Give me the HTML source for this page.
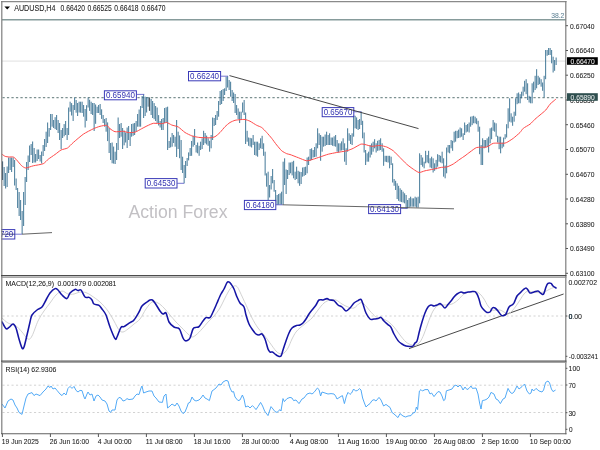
<!DOCTYPE html>
<html lang="en"><head><meta charset="utf-8"><title>AUDUSD H4 chart</title>
<style>
html,body{margin:0;padding:0;background:#fff;}
body{width:600px;height:450px;overflow:hidden;}
svg{display:block;}
text{font-family:'Liberation Sans', sans-serif;font-size:7.9px;fill:#202020;stroke:#202020;stroke-width:0.06px;}
.hd{font-size:8.3px;}
.lbl{fill:#3030b0;font-size:8.6px;stroke:none;}
.wm{font-size:17.6px;fill:#c2c0c4;stroke:none;}
</style></head><body>
<svg width="600" height="450" viewBox="0 0 600 450">
<rect x="0" y="0" width="600" height="450" fill="#ffffff"/>

<line x1="2" y1="19.8" x2="565.8" y2="19.85" stroke="#869b9b" stroke-width="1.5"/>
<line x1="2" y1="61.1" x2="565.8" y2="61.1" stroke="#dcdcdc" stroke-width="0.9"/>
<line x1="2.5" y1="97.6" x2="565.8" y2="97.6" stroke="#7d9191" stroke-width="1.35" stroke-dasharray="2.3 2.2" stroke-dashoffset="0.1"/>
<line x1="2.5" y1="316" x2="565.8" y2="316" stroke="#d2d2d2" stroke-width="1" stroke-dasharray="2.1 2.4"/>
<line x1="2.5" y1="385.2" x2="565.8" y2="385.2" stroke="#d2d2d2" stroke-width="1" stroke-dasharray="2.1 2.4"/>
<line x1="2.5" y1="412.5" x2="565.8" y2="412.5" stroke="#d2d2d2" stroke-width="1" stroke-dasharray="2.1 2.4"/>
<text class="wm" x="128.5" y="218.3" textLength="99" lengthAdjust="spacingAndGlyphs">Action Forex</text>
<g stroke="#2f6a8c" stroke-width="0.9">
<line x1="2.625" y1="161.5" x2="2.625" y2="180.0"/>
<line x1="4.125" y1="167.0" x2="4.125" y2="186.0"/>
<line x1="5.625" y1="173.0" x2="5.625" y2="188.5"/>
<line x1="7.125" y1="166.5" x2="7.125" y2="187.0"/>
<line x1="8.625" y1="157.5" x2="8.625" y2="173.0"/>
<line x1="10.125" y1="157.5" x2="10.125" y2="170.0"/>
<line x1="11.625" y1="157.5" x2="11.625" y2="172.0"/>
<line x1="13.125" y1="157.5" x2="13.125" y2="167.0"/>
<line x1="14.625" y1="160.0" x2="14.625" y2="185.5"/>
<line x1="16.125" y1="178.5" x2="16.125" y2="190.0"/>
<line x1="17.625" y1="188.0" x2="17.625" y2="208.0"/>
<line x1="19.125" y1="192.0" x2="19.125" y2="216.0"/>
<line x1="20.625" y1="200.0" x2="20.625" y2="220.0"/>
<line x1="22.125" y1="211.0" x2="22.125" y2="234.0"/>
<line x1="23.625" y1="192.0" x2="23.625" y2="226.0"/>
<line x1="25.125" y1="177.0" x2="25.125" y2="205.0"/>
<line x1="26.625" y1="162.0" x2="26.625" y2="182.0"/>
<line x1="28.125" y1="155.5" x2="28.125" y2="170.0"/>
<line x1="29.625" y1="145.5" x2="29.625" y2="162.0"/>
<line x1="31.125" y1="144.0" x2="31.125" y2="155.0"/>
<line x1="32.625" y1="141.5" x2="32.625" y2="163.0"/>
<line x1="34.125" y1="148.0" x2="34.125" y2="162.5"/>
<line x1="35.625" y1="154.0" x2="35.625" y2="162.5"/>
<line x1="37.125" y1="149.5" x2="37.125" y2="161.0"/>
<line x1="38.625" y1="149.5" x2="38.625" y2="159.0"/>
<line x1="40.125" y1="155.0" x2="40.125" y2="161.5"/>
<line x1="41.625" y1="151.5" x2="41.625" y2="163.5"/>
<line x1="43.125" y1="145.0" x2="43.125" y2="156.0"/>
<line x1="44.625" y1="139.0" x2="44.625" y2="151.0"/>
<line x1="46.125" y1="131.7" x2="46.125" y2="147.0"/>
<line x1="47.625" y1="122.5" x2="47.625" y2="143.0"/>
<line x1="49.125" y1="128.0" x2="49.125" y2="136.7"/>
<line x1="50.625" y1="114.0" x2="50.625" y2="130.0"/>
<line x1="52.125" y1="114.0" x2="52.125" y2="126.7"/>
<line x1="53.625" y1="120.0" x2="53.625" y2="128.0"/>
<line x1="55.125" y1="117.2" x2="55.125" y2="129.1"/>
<line x1="56.625" y1="115.0" x2="56.625" y2="130.0"/>
<line x1="58.125" y1="120.0" x2="58.125" y2="133.0"/>
<line x1="59.625" y1="123.0" x2="59.625" y2="140.0"/>
<line x1="61.125" y1="130.0" x2="61.125" y2="149.0"/>
<line x1="62.625" y1="128.0" x2="62.625" y2="138.0"/>
<line x1="64.125" y1="124.1" x2="64.125" y2="136.3"/>
<line x1="65.625" y1="121.0" x2="65.625" y2="135.0"/>
<line x1="67.125" y1="128.0" x2="67.125" y2="140.0"/>
<line x1="68.625" y1="107.5" x2="68.625" y2="135.0"/>
<line x1="70.125" y1="101.7" x2="70.125" y2="111.7"/>
<line x1="71.625" y1="103.1" x2="71.625" y2="115.5"/>
<line x1="73.125" y1="105.0" x2="73.125" y2="121.0"/>
<line x1="74.625" y1="97.5" x2="74.625" y2="110.0"/>
<line x1="76.125" y1="100.0" x2="76.125" y2="112.7"/>
<line x1="77.625" y1="103.0" x2="77.625" y2="116.0"/>
<line x1="79.125" y1="101.7" x2="79.125" y2="112.5"/>
<line x1="80.625" y1="101.7" x2="80.625" y2="112.7"/>
<line x1="82.125" y1="101.7" x2="82.125" y2="113.0"/>
<line x1="83.625" y1="105.0" x2="83.625" y2="116.7"/>
<line x1="85.125" y1="109.0" x2="85.125" y2="127.5"/>
<line x1="86.625" y1="105.2" x2="86.625" y2="120.9"/>
<line x1="88.125" y1="97.5" x2="88.125" y2="107.5"/>
<line x1="89.625" y1="99.7" x2="89.625" y2="110.9"/>
<line x1="91.125" y1="101.7" x2="91.125" y2="114.0"/>
<line x1="92.625" y1="103.0" x2="92.625" y2="115.0"/>
<line x1="94.125" y1="103.0" x2="94.125" y2="131.0"/>
<line x1="95.625" y1="104.5" x2="95.625" y2="123.8"/>
<line x1="97.125" y1="106.7" x2="97.125" y2="113.0"/>
<line x1="98.625" y1="105.0" x2="98.625" y2="113.0"/>
<line x1="100.125" y1="104.0" x2="100.125" y2="115.0"/>
<line x1="101.625" y1="109.3" x2="101.625" y2="118.9"/>
<line x1="103.125" y1="115.0" x2="103.125" y2="123.0"/>
<line x1="104.625" y1="119.0" x2="104.625" y2="126.7"/>
<line x1="106.125" y1="118.0" x2="106.125" y2="131.7"/>
<line x1="107.625" y1="122.4" x2="107.625" y2="141.1"/>
<line x1="109.125" y1="128.0" x2="109.125" y2="153.0"/>
<line x1="110.625" y1="143.0" x2="110.625" y2="160.0"/>
<line x1="112.125" y1="142.5" x2="112.125" y2="163.3"/>
<line x1="113.625" y1="146.6" x2="113.625" y2="163.6"/>
<line x1="115.125" y1="151.7" x2="115.125" y2="164.0"/>
<line x1="116.625" y1="143.0" x2="116.625" y2="160.0"/>
<line x1="118.125" y1="117.5" x2="118.125" y2="150.0"/>
<line x1="119.625" y1="124.0" x2="119.625" y2="138.0"/>
<line x1="121.125" y1="123.0" x2="121.125" y2="136.7"/>
<line x1="122.625" y1="128.0" x2="122.625" y2="149.0"/>
<line x1="124.125" y1="130.5" x2="124.125" y2="145.3"/>
<line x1="125.625" y1="132.5" x2="125.625" y2="142.5"/>
<line x1="127.125" y1="127.5" x2="127.125" y2="148.0"/>
<line x1="128.625" y1="126.0" x2="128.625" y2="140.0"/>
<line x1="130.125" y1="133.0" x2="130.125" y2="146.0"/>
<line x1="131.625" y1="124.0" x2="131.625" y2="136.7"/>
<line x1="133.125" y1="123.5" x2="133.125" y2="135.8"/>
<line x1="134.625" y1="123.0" x2="134.625" y2="135.0"/>
<line x1="136.125" y1="121.0" x2="136.125" y2="131.7"/>
<line x1="137.625" y1="114.0" x2="137.625" y2="126.7"/>
<line x1="139.125" y1="109.5" x2="139.125" y2="126.7"/>
<line x1="140.625" y1="106.0" x2="140.625" y2="126.7"/>
<line x1="142.125" y1="96.0" x2="142.125" y2="108.0"/>
<line x1="143.625" y1="94.2" x2="143.625" y2="118.0"/>
<line x1="145.125" y1="96.7" x2="145.125" y2="116.0"/>
<line x1="146.625" y1="97.0" x2="146.625" y2="112.5"/>
<line x1="148.125" y1="97.5" x2="148.125" y2="106.7"/>
<line x1="149.625" y1="97.5" x2="149.625" y2="111.0"/>
<line x1="151.125" y1="99.0" x2="151.125" y2="115.0"/>
<line x1="152.625" y1="101.0" x2="152.625" y2="118.0"/>
<line x1="154.125" y1="103.1" x2="154.125" y2="119.2"/>
<line x1="155.625" y1="106.0" x2="155.625" y2="121.0"/>
<line x1="157.125" y1="107.5" x2="157.125" y2="123.0"/>
<line x1="158.625" y1="115.1" x2="158.625" y2="125.5"/>
<line x1="160.125" y1="121.0" x2="160.125" y2="127.5"/>
<line x1="161.625" y1="119.0" x2="161.625" y2="130.0"/>
<line x1="163.125" y1="118.0" x2="163.125" y2="130.0"/>
<line x1="164.625" y1="108.0" x2="164.625" y2="123.0"/>
<line x1="166.125" y1="107.3" x2="166.125" y2="122.7"/>
<line x1="167.625" y1="106.7" x2="167.625" y2="150.0"/>
<line x1="169.125" y1="141.0" x2="169.125" y2="148.0"/>
<line x1="170.625" y1="137.3" x2="170.625" y2="147.4"/>
<line x1="172.125" y1="133.0" x2="172.125" y2="146.7"/>
<line x1="173.625" y1="135.0" x2="173.625" y2="143.0"/>
<line x1="175.125" y1="136.7" x2="175.125" y2="146.7"/>
<line x1="176.625" y1="120.0" x2="176.625" y2="157.0"/>
<line x1="178.125" y1="131.7" x2="178.125" y2="149.0"/>
<line x1="179.625" y1="135.4" x2="179.625" y2="158.2"/>
<line x1="181.125" y1="140.0" x2="181.125" y2="170.0"/>
<line x1="182.625" y1="156.7" x2="182.625" y2="173.0"/>
<line x1="184.125" y1="165.0" x2="184.125" y2="183.3"/>
<line x1="185.625" y1="161.0" x2="185.625" y2="178.0"/>
<line x1="187.125" y1="158.0" x2="187.125" y2="166.0"/>
<line x1="188.625" y1="152.4" x2="188.625" y2="160.4"/>
<line x1="190.125" y1="148.0" x2="190.125" y2="156.0"/>
<line x1="191.625" y1="141.0" x2="191.625" y2="155.8"/>
<line x1="193.125" y1="135.8" x2="193.125" y2="146.7"/>
<line x1="194.625" y1="129.0" x2="194.625" y2="145.0"/>
<line x1="196.125" y1="145.0" x2="196.125" y2="152.5"/>
<line x1="197.625" y1="142.5" x2="197.625" y2="153.3"/>
<line x1="199.125" y1="145.8" x2="199.125" y2="155.8"/>
<line x1="200.625" y1="141.7" x2="200.625" y2="150.0"/>
<line x1="202.125" y1="138.3" x2="202.125" y2="149.0"/>
<line x1="203.625" y1="130.8" x2="203.625" y2="145.0"/>
<line x1="205.125" y1="133.0" x2="205.125" y2="143.3"/>
<line x1="206.625" y1="135.6" x2="206.625" y2="144.5"/>
<line x1="208.125" y1="138.3" x2="208.125" y2="145.8"/>
<line x1="209.625" y1="140.8" x2="209.625" y2="151.7"/>
<line x1="211.125" y1="135.0" x2="211.125" y2="148.3"/>
<line x1="212.625" y1="117.5" x2="212.625" y2="140.0"/>
<line x1="214.125" y1="118.0" x2="214.125" y2="126.0"/>
<line x1="215.625" y1="115.0" x2="215.625" y2="125.0"/>
<line x1="217.125" y1="111.0" x2="217.125" y2="120.0"/>
<line x1="218.625" y1="101.0" x2="218.625" y2="116.7"/>
<line x1="220.125" y1="91.0" x2="220.125" y2="105.0"/>
<line x1="221.625" y1="90.0" x2="221.625" y2="104.0"/>
<line x1="223.125" y1="89.0" x2="223.125" y2="101.0"/>
<line x1="224.625" y1="88.3" x2="224.625" y2="95.0"/>
<line x1="226.125" y1="76.7" x2="226.125" y2="91.0"/>
<line x1="227.625" y1="76.2" x2="227.625" y2="87.5"/>
<line x1="229.125" y1="80.0" x2="229.125" y2="90.0"/>
<line x1="230.625" y1="81.7" x2="230.625" y2="96.7"/>
<line x1="232.125" y1="90.0" x2="232.125" y2="101.0"/>
<line x1="233.625" y1="92.5" x2="233.625" y2="103.0"/>
<line x1="235.125" y1="94.0" x2="235.125" y2="113.0"/>
<line x1="236.625" y1="105.0" x2="236.625" y2="115.0"/>
<line x1="238.125" y1="108.4" x2="238.125" y2="119.1"/>
<line x1="239.625" y1="111.7" x2="239.625" y2="123.0"/>
<line x1="241.125" y1="111.7" x2="241.125" y2="120.0"/>
<line x1="242.625" y1="102.5" x2="242.625" y2="112.5"/>
<line x1="244.125" y1="100.0" x2="244.125" y2="115.0"/>
<line x1="245.625" y1="112.5" x2="245.625" y2="144.0"/>
<line x1="247.125" y1="130.8" x2="247.125" y2="141.7"/>
<line x1="248.625" y1="137.5" x2="248.625" y2="145.8"/>
<line x1="250.125" y1="137.9" x2="250.125" y2="146.6"/>
<line x1="251.625" y1="138.3" x2="251.625" y2="147.5"/>
<line x1="253.125" y1="135.0" x2="253.125" y2="145.0"/>
<line x1="254.625" y1="141.7" x2="254.625" y2="155.0"/>
<line x1="256.125" y1="141.7" x2="256.125" y2="155.7"/>
<line x1="257.625" y1="141.7" x2="257.625" y2="156.7"/>
<line x1="259.125" y1="143.3" x2="259.125" y2="150.0"/>
<line x1="260.625" y1="138.3" x2="260.625" y2="148.3"/>
<line x1="262.125" y1="135.8" x2="262.125" y2="149.0"/>
<line x1="263.625" y1="143.3" x2="263.625" y2="155.8"/>
<line x1="265.125" y1="151.7" x2="265.125" y2="175.5"/>
<line x1="266.625" y1="173.3" x2="266.625" y2="186.7"/>
<line x1="268.125" y1="171.7" x2="268.125" y2="200.0"/>
<line x1="269.625" y1="185.0" x2="269.625" y2="197.5"/>
<line x1="271.125" y1="176.0" x2="271.125" y2="189.5"/>
<line x1="272.625" y1="169.0" x2="272.625" y2="183.3"/>
<line x1="274.125" y1="180.0" x2="274.125" y2="191.7"/>
<line x1="275.625" y1="190.0" x2="275.625" y2="200.0"/>
<line x1="277.125" y1="195.0" x2="277.125" y2="205.0"/>
<line x1="278.625" y1="194.0" x2="278.625" y2="204.8"/>
<line x1="280.125" y1="193.3" x2="280.125" y2="204.7"/>
<line x1="281.625" y1="191.7" x2="281.625" y2="204.7"/>
<line x1="283.125" y1="161.7" x2="283.125" y2="204.7"/>
<line x1="284.625" y1="158.3" x2="284.625" y2="185.0"/>
<line x1="286.125" y1="169.5" x2="286.125" y2="194.0"/>
<line x1="287.625" y1="170.0" x2="287.625" y2="179.0"/>
<line x1="289.125" y1="162.5" x2="289.125" y2="175.0"/>
<line x1="290.625" y1="162.5" x2="290.625" y2="173.3"/>
<line x1="292.125" y1="161.8" x2="292.125" y2="175.4"/>
<line x1="293.625" y1="160.8" x2="293.625" y2="178.3"/>
<line x1="295.125" y1="171.7" x2="295.125" y2="180.0"/>
<line x1="296.625" y1="166.7" x2="296.625" y2="179.0"/>
<line x1="298.125" y1="170.8" x2="298.125" y2="183.3"/>
<line x1="299.625" y1="171.7" x2="299.625" y2="185.8"/>
<line x1="301.125" y1="172.0" x2="301.125" y2="184.0"/>
<line x1="302.625" y1="167.5" x2="302.625" y2="176.7"/>
<line x1="304.125" y1="167.1" x2="304.125" y2="175.9"/>
<line x1="305.625" y1="166.7" x2="305.625" y2="175.0"/>
<line x1="307.125" y1="157.5" x2="307.125" y2="173.3"/>
<line x1="308.625" y1="156.7" x2="308.625" y2="165.0"/>
<line x1="310.125" y1="149.0" x2="310.125" y2="160.8"/>
<line x1="311.625" y1="148.3" x2="311.625" y2="160.0"/>
<line x1="313.125" y1="150.0" x2="313.125" y2="157.5"/>
<line x1="314.625" y1="147.0" x2="314.625" y2="157.1"/>
<line x1="316.125" y1="143.3" x2="316.125" y2="156.7"/>
<line x1="317.625" y1="128.3" x2="317.625" y2="148.3"/>
<line x1="319.125" y1="133.3" x2="319.125" y2="145.0"/>
<line x1="320.625" y1="135.0" x2="320.625" y2="160.8"/>
<line x1="322.125" y1="136.7" x2="322.125" y2="151.7"/>
<line x1="323.625" y1="136.7" x2="323.625" y2="146.7"/>
<line x1="325.125" y1="134.5" x2="325.125" y2="146.0"/>
<line x1="326.625" y1="131.7" x2="326.625" y2="145.0"/>
<line x1="328.125" y1="135.0" x2="328.125" y2="145.0"/>
<line x1="329.625" y1="133.3" x2="329.625" y2="145.0"/>
<line x1="331.125" y1="137.5" x2="331.125" y2="145.0"/>
<line x1="332.625" y1="137.5" x2="332.625" y2="145.8"/>
<line x1="334.125" y1="136.3" x2="334.125" y2="146.2"/>
<line x1="335.625" y1="135.0" x2="335.625" y2="146.7"/>
<line x1="337.125" y1="140.0" x2="337.125" y2="151.7"/>
<line x1="338.625" y1="143.3" x2="338.625" y2="152.5"/>
<line x1="340.125" y1="143.3" x2="340.125" y2="150.8"/>
<line x1="341.625" y1="141.4" x2="341.625" y2="150.5"/>
<line x1="343.125" y1="138.3" x2="343.125" y2="150.0"/>
<line x1="344.625" y1="143.3" x2="344.625" y2="161.7"/>
<line x1="346.125" y1="148.3" x2="346.125" y2="165.0"/>
<line x1="347.625" y1="128.3" x2="347.625" y2="151.7"/>
<line x1="349.125" y1="133.3" x2="349.125" y2="140.8"/>
<line x1="350.625" y1="135.0" x2="350.625" y2="144.0"/>
<line x1="352.125" y1="133.3" x2="352.125" y2="145.0"/>
<line x1="353.625" y1="115.0" x2="353.625" y2="136.7"/>
<line x1="355.125" y1="115.8" x2="355.125" y2="128.3"/>
<line x1="356.625" y1="117.4" x2="356.625" y2="128.9"/>
<line x1="358.125" y1="120.0" x2="358.125" y2="130.0"/>
<line x1="359.625" y1="119.0" x2="359.625" y2="129.0"/>
<line x1="361.125" y1="111.7" x2="361.125" y2="125.0"/>
<line x1="362.625" y1="120.8" x2="362.625" y2="138.3"/>
<line x1="364.125" y1="132.5" x2="364.125" y2="152.5"/>
<line x1="365.625" y1="150.0" x2="365.625" y2="165.0"/>
<line x1="367.125" y1="153.3" x2="367.125" y2="161.7"/>
<line x1="368.625" y1="151.7" x2="368.625" y2="161.7"/>
<line x1="370.125" y1="145.0" x2="370.125" y2="157.5"/>
<line x1="371.625" y1="143.4" x2="371.625" y2="154.7"/>
<line x1="373.125" y1="141.7" x2="373.125" y2="151.7"/>
<line x1="374.625" y1="139.2" x2="374.625" y2="148.3"/>
<line x1="376.125" y1="143.3" x2="376.125" y2="152.5"/>
<line x1="377.625" y1="140.8" x2="377.625" y2="150.8"/>
<line x1="379.125" y1="139.9" x2="379.125" y2="150.5"/>
<line x1="380.625" y1="138.3" x2="380.625" y2="150.0"/>
<line x1="382.125" y1="143.3" x2="382.125" y2="151.7"/>
<line x1="383.625" y1="148.3" x2="383.625" y2="165.8"/>
<line x1="385.125" y1="155.8" x2="385.125" y2="161.7"/>
<line x1="386.625" y1="155.8" x2="386.625" y2="162.1"/>
<line x1="388.125" y1="155.8" x2="388.125" y2="162.5"/>
<line x1="389.625" y1="155.8" x2="389.625" y2="168.3"/>
<line x1="391.125" y1="156.7" x2="391.125" y2="165.0"/>
<line x1="392.625" y1="163.3" x2="392.625" y2="182.5"/>
<line x1="394.125" y1="179.0" x2="394.125" y2="185.8"/>
<line x1="395.625" y1="180.8" x2="395.625" y2="190.0"/>
<line x1="397.125" y1="183.3" x2="397.125" y2="199.0"/>
<line x1="398.625" y1="185.8" x2="398.625" y2="200.8"/>
<line x1="400.125" y1="188.3" x2="400.125" y2="201.7"/>
<line x1="401.625" y1="189.9" x2="401.625" y2="202.1"/>
<line x1="403.125" y1="191.7" x2="403.125" y2="202.5"/>
<line x1="404.625" y1="193.3" x2="404.625" y2="203.3"/>
<line x1="406.125" y1="195.0" x2="406.125" y2="208.3"/>
<line x1="407.625" y1="200.0" x2="407.625" y2="208.3"/>
<line x1="409.125" y1="198.1" x2="409.125" y2="207.4"/>
<line x1="410.625" y1="196.7" x2="410.625" y2="206.7"/>
<line x1="412.125" y1="198.3" x2="412.125" y2="206.7"/>
<line x1="413.625" y1="198.3" x2="413.625" y2="206.7"/>
<line x1="415.125" y1="196.7" x2="415.125" y2="206.7"/>
<line x1="416.625" y1="197.5" x2="416.625" y2="207.5"/>
<line x1="418.125" y1="196.7" x2="418.125" y2="207.5"/>
<line x1="419.625" y1="153.3" x2="419.625" y2="203.3"/>
<line x1="421.125" y1="155.0" x2="421.125" y2="165.0"/>
<line x1="422.625" y1="157.5" x2="422.625" y2="166.7"/>
<line x1="424.125" y1="161.7" x2="424.125" y2="168.3"/>
<line x1="425.625" y1="150.8" x2="425.625" y2="163.3"/>
<line x1="427.125" y1="155.0" x2="427.125" y2="162.5"/>
<line x1="428.625" y1="150.8" x2="428.625" y2="163.3"/>
<line x1="430.125" y1="158.3" x2="430.125" y2="167.5"/>
<line x1="431.625" y1="156.7" x2="431.625" y2="168.3"/>
<line x1="433.125" y1="158.3" x2="433.125" y2="172.5"/>
<line x1="434.625" y1="163.3" x2="434.625" y2="170.8"/>
<line x1="436.125" y1="159.9" x2="436.125" y2="169.3"/>
<line x1="437.625" y1="154.2" x2="437.625" y2="166.7"/>
<line x1="439.125" y1="155.0" x2="439.125" y2="161.7"/>
<line x1="440.625" y1="155.8" x2="440.625" y2="162.5"/>
<line x1="442.125" y1="151.7" x2="442.125" y2="163.3"/>
<line x1="443.625" y1="158.3" x2="443.625" y2="176.7"/>
<line x1="445.125" y1="165.5" x2="445.125" y2="178.3"/>
<line x1="446.625" y1="147.5" x2="446.625" y2="173.3"/>
<line x1="448.125" y1="145.0" x2="448.125" y2="152.5"/>
<line x1="449.625" y1="145.0" x2="449.625" y2="153.3"/>
<line x1="451.125" y1="140.0" x2="451.125" y2="148.3"/>
<line x1="452.625" y1="140.8" x2="452.625" y2="150.8"/>
<line x1="454.125" y1="131.7" x2="454.125" y2="142.5"/>
<line x1="455.625" y1="130.8" x2="455.625" y2="141.7"/>
<line x1="457.125" y1="130.8" x2="457.125" y2="138.3"/>
<line x1="458.625" y1="129.6" x2="458.625" y2="138.0"/>
<line x1="460.125" y1="127.5" x2="460.125" y2="137.5"/>
<line x1="461.625" y1="128.3" x2="461.625" y2="136.7"/>
<line x1="463.125" y1="133.3" x2="463.125" y2="140.0"/>
<line x1="464.625" y1="122.5" x2="464.625" y2="135.0"/>
<line x1="466.125" y1="125.0" x2="466.125" y2="132.5"/>
<line x1="467.625" y1="124.0" x2="467.625" y2="131.7"/>
<line x1="469.125" y1="122.5" x2="469.125" y2="132.5"/>
<line x1="470.625" y1="116.7" x2="470.625" y2="126.7"/>
<line x1="472.125" y1="116.3" x2="472.125" y2="125.1"/>
<line x1="473.625" y1="115.8" x2="473.625" y2="123.3"/>
<line x1="475.125" y1="116.7" x2="475.125" y2="123.3"/>
<line x1="476.625" y1="118.3" x2="476.625" y2="124.2"/>
<line x1="478.125" y1="120.8" x2="478.125" y2="131.7"/>
<line x1="479.625" y1="126.7" x2="479.625" y2="154.2"/>
<line x1="481.125" y1="145.0" x2="481.125" y2="165.0"/>
<line x1="482.625" y1="138.3" x2="482.625" y2="165.0"/>
<line x1="484.125" y1="140.0" x2="484.125" y2="148.3"/>
<line x1="485.625" y1="140.0" x2="485.625" y2="147.5"/>
<line x1="487.125" y1="138.3" x2="487.125" y2="146.7"/>
<line x1="488.625" y1="136.7" x2="488.625" y2="152.5"/>
<line x1="490.125" y1="128.3" x2="490.125" y2="143.3"/>
<line x1="491.625" y1="127.5" x2="491.625" y2="139.2"/>
<line x1="493.125" y1="120.0" x2="493.125" y2="130.8"/>
<line x1="494.625" y1="122.5" x2="494.625" y2="131.7"/>
<line x1="496.125" y1="123.3" x2="496.125" y2="136.7"/>
<line x1="497.625" y1="135.8" x2="497.625" y2="142.5"/>
<line x1="499.125" y1="136.7" x2="499.125" y2="149.2"/>
<line x1="500.625" y1="136.7" x2="500.625" y2="153.3"/>
<line x1="502.125" y1="142.5" x2="502.125" y2="148.3"/>
<line x1="503.625" y1="137.5" x2="503.625" y2="146.7"/>
<line x1="505.125" y1="134.2" x2="505.125" y2="139.2"/>
<line x1="506.625" y1="124.2" x2="506.625" y2="137.5"/>
<line x1="508.125" y1="108.3" x2="508.125" y2="128.3"/>
<line x1="509.625" y1="98.3" x2="509.625" y2="121.7"/>
<line x1="511.125" y1="113.3" x2="511.125" y2="122.5"/>
<line x1="512.625" y1="116.7" x2="512.625" y2="125.8"/>
<line x1="514.125" y1="111.7" x2="514.125" y2="121.7"/>
<line x1="515.625" y1="98.3" x2="515.625" y2="115.8"/>
<line x1="517.125" y1="93.3" x2="517.125" y2="104.2"/>
<line x1="518.625" y1="92.5" x2="518.625" y2="103.3"/>
<line x1="520.125" y1="94.2" x2="520.125" y2="103.3"/>
<line x1="521.625" y1="91.7" x2="521.625" y2="98.3"/>
<line x1="523.125" y1="86.7" x2="523.125" y2="95.8"/>
<line x1="524.625" y1="80.8" x2="524.625" y2="91.7"/>
<line x1="526.125" y1="79.2" x2="526.125" y2="94.2"/>
<line x1="527.625" y1="83.3" x2="527.625" y2="100.0"/>
<line x1="529.125" y1="95.8" x2="529.125" y2="102.5"/>
<line x1="530.625" y1="96.7" x2="530.625" y2="103.3"/>
<line x1="532.125" y1="83.3" x2="532.125" y2="103.3"/>
<line x1="533.625" y1="81.7" x2="533.625" y2="92.5"/>
<line x1="535.125" y1="75.8" x2="535.125" y2="90.0"/>
<line x1="536.625" y1="69.2" x2="536.625" y2="88.3"/>
<line x1="538.125" y1="75.8" x2="538.125" y2="85.0"/>
<line x1="539.625" y1="77.5" x2="539.625" y2="84.2"/>
<line x1="541.125" y1="79.2" x2="541.125" y2="86.7"/>
<line x1="542.625" y1="82.5" x2="542.625" y2="90.8"/>
<line x1="544.125" y1="75.8" x2="544.125" y2="97.5"/>
<line x1="545.625" y1="50.0" x2="545.625" y2="79.2"/>
<line x1="547.125" y1="50.0" x2="547.125" y2="55.8"/>
<line x1="548.625" y1="48.0" x2="548.625" y2="55.0"/>
<line x1="550.125" y1="48.0" x2="550.125" y2="55.0"/>
<line x1="551.625" y1="50.0" x2="551.625" y2="63.3"/>
<line x1="553.125" y1="56.7" x2="553.125" y2="72.5"/>
<line x1="554.625" y1="60.0" x2="554.625" y2="70.8"/>
<line x1="556.125" y1="57.5" x2="556.125" y2="65.0"/>
</g>
<line x1="149.4" y1="97.6" x2="149.4" y2="110.5" stroke="#4a4a4a" stroke-width="0.9"/>
<line x1="2.5" y1="161.5" x2="2.5" y2="180" stroke="#2c4e6a" stroke-width="0.9"/>
<path d="M1.7 154.0C2.0 154.2 4.3 156.0 5.0 156.3C5.7 156.6 8.2 156.9 9.0 157.0C9.8 157.1 12.5 156.7 13.3 157.0C14.1 157.3 15.9 159.1 16.7 160.0C17.5 160.9 20.8 165.0 21.7 165.8C22.6 166.6 24.6 168.0 25.8 168.0C27.0 168.0 31.5 166.2 33.3 165.8C35.0 165.4 41.8 164.4 43.3 163.7C44.8 163.0 47.1 160.1 48.3 159.2C49.5 158.3 53.7 155.4 55.0 154.5C56.3 153.6 59.8 150.7 61.0 150.0C62.2 149.3 66.3 148.8 67.5 148.0C68.7 147.2 71.7 143.9 73.3 142.5C74.9 141.1 81.3 135.6 83.3 134.2C85.3 132.8 91.6 129.6 93.3 128.8C95.0 128.0 98.7 126.6 100.0 126.3C101.3 126.0 105.7 125.1 106.7 125.3C107.7 125.5 109.2 128.1 110.0 128.7C110.8 129.3 113.7 131.4 115.0 131.7C116.3 132.0 122.0 131.2 123.3 131.3C124.6 131.4 127.1 132.4 128.3 132.5C129.5 132.6 133.7 132.6 135.0 132.2C136.3 131.8 140.4 129.4 141.7 128.7C143.0 128.0 147.1 125.8 148.3 125.3C149.5 124.8 152.0 123.5 153.3 123.3C154.6 123.1 160.4 123.8 161.7 123.7C163.0 123.6 165.7 122.4 166.7 122.5C167.7 122.6 170.5 124.5 171.7 125.0C172.9 125.5 177.0 126.2 178.3 127.0C179.6 127.8 183.7 131.6 185.0 132.5C186.3 133.4 190.7 135.4 191.7 135.8C192.7 136.2 194.2 136.5 195.0 136.7C195.8 136.9 198.5 137.4 200.0 137.5C201.5 137.6 208.5 137.9 210.0 137.8C211.5 137.7 214.0 137.2 215.0 136.7C216.0 136.2 219.0 133.5 220.0 132.5C221.0 131.5 224.0 127.7 225.0 126.7C226.0 125.7 229.0 123.1 230.0 122.5C231.0 121.9 234.0 120.6 235.0 120.3C236.0 120.0 239.0 119.8 240.0 119.7C241.0 119.6 244.0 119.3 245.0 119.5C246.0 119.7 248.8 120.6 250.0 121.2C251.2 121.8 255.5 124.7 256.7 125.3C257.9 125.9 260.7 126.8 261.7 127.5C262.7 128.2 265.7 131.4 266.7 132.5C267.7 133.6 270.7 137.1 271.7 138.3C272.7 139.6 275.7 143.8 276.7 145.0C277.7 146.2 280.7 149.9 281.7 150.8C282.7 151.7 285.9 153.3 286.7 153.7C287.5 154.1 288.8 154.1 290.0 154.5C291.2 154.9 296.6 157.1 298.3 157.7C300.0 158.3 305.2 160.7 306.7 160.8C308.2 161.0 312.0 159.6 313.3 159.2C314.6 158.8 318.5 157.5 320.0 157.0C321.5 156.5 326.6 154.6 328.3 154.2C330.0 153.8 334.9 152.8 336.7 152.5C338.5 152.2 345.0 151.2 346.7 150.8C348.4 150.4 351.9 149.0 353.3 148.3C354.7 147.6 359.6 144.6 360.8 144.2C362.0 143.8 363.9 144.3 365.0 144.5C366.1 144.7 370.2 146.2 371.7 146.3C373.2 146.4 378.5 145.4 380.0 145.5C381.5 145.6 385.4 146.5 386.7 147.0C388.0 147.5 392.0 149.8 393.3 150.8C394.6 151.9 398.7 156.2 400.0 157.5C401.3 158.8 405.4 163.0 406.7 164.2C408.0 165.4 412.1 168.4 413.3 169.2C414.5 170.0 417.8 172.3 419.0 172.5C420.2 172.7 423.6 171.1 425.0 170.8C426.4 170.5 431.6 169.5 433.3 169.2C435.0 168.8 440.4 167.5 441.7 167.3C443.0 167.1 445.5 167.3 446.7 167.0C447.9 166.7 452.0 164.8 453.3 164.0C454.6 163.2 458.8 160.0 460.0 159.2C461.2 158.4 464.0 156.5 465.0 155.8C466.0 155.1 468.8 152.8 470.0 152.0C471.2 151.2 475.0 148.0 476.7 147.5C478.4 147.0 485.0 147.4 486.7 147.0C488.4 146.6 491.6 143.7 493.3 143.3C495.0 142.9 502.0 143.4 503.3 143.3C504.6 143.2 505.7 143.0 506.7 142.5C507.7 142.0 512.0 139.3 513.3 138.3C514.6 137.3 519.0 133.5 520.0 132.5C521.0 131.5 522.3 129.1 523.3 128.3C524.3 127.5 528.8 125.1 530.0 124.2C531.2 123.3 534.0 120.1 535.0 119.2C536.0 118.3 538.9 115.9 540.0 115.0C541.1 114.1 544.8 111.1 545.8 110.0C546.8 108.9 549.0 105.3 550.0 104.2C551.0 103.1 555.2 99.7 555.8 99.2" fill="none" stroke="#ff4a4a" stroke-width="1" stroke-linejoin="round"/>
<rect x="104.4" y="90.8" width="32.0" height="9.0" fill="#fff" stroke="#3a3ab8" stroke-width="1"/>
<line x1="136.4" y1="94.4" x2="144.2" y2="94.4" stroke="#5c5cc8" stroke-width="0.85"/>
<text class="lbl" x="105.9" y="98.3" textLength="29.0" lengthAdjust="spacingAndGlyphs">0.65940</text>
<rect x="188.5" y="71.5" width="32.1" height="9.3" fill="#fff" stroke="#3a3ab8" stroke-width="1"/>
<line x1="220.6" y1="76.2" x2="228" y2="76.2" stroke="#5c5cc8" stroke-width="0.85"/>
<text class="lbl" x="190.0" y="79.2" textLength="29.1" lengthAdjust="spacingAndGlyphs">0.66240</text>
<rect x="145.2" y="178.6" width="31.8" height="9.4" fill="#fff" stroke="#3a3ab8" stroke-width="1"/>
<line x1="177" y1="183.3" x2="184.2" y2="183.3" stroke="#5c5cc8" stroke-width="0.85"/>
<text class="lbl" x="146.7" y="186.4" textLength="28.8" lengthAdjust="spacingAndGlyphs">0.64530</text>
<rect x="244.4" y="200.4" width="31.4" height="9.2" fill="#fff" stroke="#3a3ab8" stroke-width="1"/>
<line x1="275.8" y1="204.8" x2="282.5" y2="204.8" stroke="#5c5cc8" stroke-width="0.85"/>
<text class="lbl" x="245.9" y="208.1" textLength="28.4" lengthAdjust="spacingAndGlyphs">0.64180</text>
<rect x="322.2" y="107.6" width="31.6" height="9.1" fill="#fff" stroke="#3a3ab8" stroke-width="1"/>
<line x1="353.8" y1="111.8" x2="361.5" y2="111.8" stroke="#5c5cc8" stroke-width="0.85"/>
<text class="lbl" x="323.7" y="115.2" textLength="28.6" lengthAdjust="spacingAndGlyphs">0.65670</text>
<rect x="368.6" y="204.6" width="32.0" height="9.0" fill="#fff" stroke="#3a3ab8" stroke-width="1"/>
<line x1="400.6" y1="208.4" x2="407.5" y2="208.4" stroke="#5c5cc8" stroke-width="0.85"/>
<text class="lbl" x="370.1" y="212.2" textLength="29.0" lengthAdjust="spacingAndGlyphs">0.64130</text>
<rect x="-17" y="229.6" width="31.8" height="9.4" fill="#fff" stroke="#3a3ab8" stroke-width="1"/>
<line x1="14.8" y1="234.2" x2="22" y2="234.2" stroke="#5c5cc8" stroke-width="0.85"/>
<text class="lbl" x="-15.5" y="237.4" textLength="28.8" lengthAdjust="spacingAndGlyphs">0.63720</text>
<line x1="2" y1="234.2" x2="14.8" y2="234.2" stroke="#33337a" stroke-width="0.9"/>
<g stroke="#333" stroke-width="0.9" fill="none">
<line x1="229.5" y1="75.6" x2="418.5" y2="128.6"/>
<line x1="282.5" y1="204.8" x2="454" y2="208.8" stroke="#4a4a4a" stroke-width="0.85"/>
<line x1="22" y1="234.2" x2="52" y2="232.6" stroke="#4a4a4a" stroke-width="0.85"/>
<line x1="409" y1="348.6" x2="563.6" y2="294"/>
</g>
<path d="M2.0 318.0C3.0 318.8 5.7 321.7 8.0 323.0C10.3 324.3 13.7 324.5 16.0 326.0C18.3 327.5 20.0 329.8 22.0 332.0C24.0 334.2 26.3 338.3 28.0 339.0C29.7 339.7 30.3 339.0 32.0 336.0C33.7 333.0 36.0 325.2 38.0 321.0C40.0 316.8 42.0 314.0 44.0 311.0C46.0 308.0 48.0 305.7 50.0 303.0C52.0 300.3 54.0 297.0 56.0 295.0C58.0 293.0 60.0 291.2 62.0 291.0C64.0 290.8 66.0 293.5 68.0 294.0C70.0 294.5 72.0 294.3 74.0 294.0C76.0 293.7 78.0 292.2 80.0 292.0C82.0 291.8 84.0 291.9 86.0 292.6C88.0 293.3 89.7 294.4 92.0 296.0C94.3 297.6 97.3 299.5 100.0 302.0C102.7 304.5 105.7 307.8 108.0 311.0C110.3 314.2 112.2 317.8 114.0 321.0C115.8 324.2 117.5 328.2 119.0 330.0C120.5 331.8 121.5 332.2 123.0 332.0C124.5 331.8 126.2 330.3 128.0 329.0C129.8 327.7 132.0 325.7 134.0 324.0C136.0 322.3 138.0 321.5 140.0 319.0C142.0 316.5 144.0 311.8 146.0 309.0C148.0 306.2 150.0 303.0 152.0 302.0C154.0 301.0 156.0 302.0 158.0 303.0C160.0 304.0 162.0 306.0 164.0 308.0C166.0 310.0 168.0 312.7 170.0 315.0C172.0 317.3 174.0 319.8 176.0 322.0C178.0 324.2 180.0 326.0 182.0 328.0C184.0 330.0 186.3 332.5 188.0 334.0C189.7 335.5 190.7 336.8 192.0 337.0C193.3 337.2 194.3 336.3 196.0 335.0C197.7 333.7 200.0 331.2 202.0 329.0C204.0 326.8 206.0 324.2 208.0 322.0C210.0 319.8 212.0 318.3 214.0 316.0C216.0 313.7 218.2 311.0 220.0 308.0C221.8 305.0 223.3 301.2 225.0 298.0C226.7 294.8 228.5 291.0 230.0 289.0C231.5 287.0 232.8 286.4 234.0 286.0C235.2 285.6 236.0 285.6 237.0 286.6C238.0 287.6 238.5 288.9 240.0 292.0C241.5 295.1 244.0 300.7 246.0 305.0C248.0 309.3 250.0 314.2 252.0 318.0C254.0 321.8 256.0 325.2 258.0 328.0C260.0 330.8 262.0 332.5 264.0 335.0C266.0 337.5 268.0 340.3 270.0 343.0C272.0 345.7 274.3 349.2 276.0 351.0C277.7 352.8 278.7 353.3 280.0 353.6C281.3 353.9 282.7 353.9 284.0 353.0C285.3 352.1 286.7 350.3 288.0 348.0C289.3 345.7 290.7 341.7 292.0 339.0C293.3 336.3 294.7 333.8 296.0 332.0C297.3 330.2 298.3 329.5 300.0 328.0C301.7 326.5 304.0 324.7 306.0 323.0C308.0 321.3 310.0 320.2 312.0 318.0C314.0 315.8 316.0 312.5 318.0 310.0C320.0 307.5 322.0 304.7 324.0 303.0C326.0 301.3 328.0 300.5 330.0 300.0C332.0 299.5 334.0 299.3 336.0 300.0C338.0 300.7 340.0 302.8 342.0 304.0C344.0 305.2 346.0 306.3 348.0 307.0C350.0 307.7 352.0 308.7 354.0 308.0C356.0 307.3 358.3 303.7 360.0 303.0C361.7 302.3 362.3 302.7 364.0 304.0C365.7 305.3 368.0 308.8 370.0 311.0C372.0 313.2 374.0 315.7 376.0 317.0C378.0 318.3 380.0 317.9 382.0 318.6C384.0 319.3 386.0 320.0 388.0 321.4C390.0 322.8 392.0 324.7 394.0 327.0C396.0 329.3 398.0 332.5 400.0 335.0C402.0 337.5 404.0 340.3 406.0 342.0C408.0 343.7 410.3 344.5 412.0 345.0C413.7 345.5 414.7 345.5 416.0 345.0C417.3 344.5 418.7 343.8 420.0 342.0C421.3 340.2 422.7 337.2 424.0 334.0C425.3 330.8 426.7 326.5 428.0 323.0C429.3 319.5 430.7 315.7 432.0 313.0C433.3 310.3 434.7 308.3 436.0 307.0C437.3 305.7 438.3 305.3 440.0 305.0C441.7 304.7 444.0 305.2 446.0 305.0C448.0 304.8 450.0 304.8 452.0 304.0C454.0 303.2 456.0 301.7 458.0 300.0C460.0 298.3 462.0 295.3 464.0 294.0C466.0 292.7 468.0 292.4 470.0 292.0C472.0 291.6 474.3 291.3 476.0 291.6C477.7 291.9 478.7 292.8 480.0 294.0C481.3 295.2 482.7 297.0 484.0 299.0C485.3 301.0 486.7 304.2 488.0 306.0C489.3 307.8 490.7 309.3 492.0 310.0C493.3 310.7 494.7 310.0 496.0 310.0C497.3 310.0 498.7 309.7 500.0 310.0C501.3 310.3 502.7 311.3 504.0 312.0C505.3 312.7 506.7 314.2 508.0 314.0C509.3 313.8 510.7 312.3 512.0 311.0C513.3 309.7 514.7 307.8 516.0 306.0C517.3 304.2 518.7 302.0 520.0 300.0C521.3 298.0 522.7 295.5 524.0 294.0C525.3 292.5 526.7 291.3 528.0 291.0C529.3 290.7 530.3 291.7 532.0 292.0C533.7 292.3 536.0 292.6 538.0 292.6C540.0 292.6 542.0 292.6 544.0 292.0C546.0 291.4 548.2 289.8 550.0 289.0C551.8 288.2 554.2 287.3 555.0 287.0" fill="none" stroke="#cdcdcd" stroke-width="0.9" stroke-linejoin="round"/>
<path d="M2.0 322.0C2.7 323.1 4.8 327.7 6.0 328.6C7.2 329.5 7.8 328.2 9.0 327.4C10.2 326.6 11.8 323.9 13.0 324.0C14.2 324.1 15.0 325.5 16.0 328.0C17.0 330.5 18.0 335.7 19.0 339.0C20.0 342.3 21.2 346.7 22.0 348.0C22.8 349.3 23.2 349.2 24.0 347.0C24.8 344.8 26.0 339.2 27.0 335.0C28.0 330.8 29.2 325.3 30.0 322.0C30.8 318.7 30.8 317.0 32.0 315.0C33.2 313.0 35.3 311.3 37.0 310.0C38.7 308.7 40.5 308.7 42.0 307.0C43.5 305.3 44.7 302.3 46.0 300.0C47.3 297.7 48.5 294.9 50.0 293.0C51.5 291.1 53.7 289.1 55.0 288.6C56.3 288.1 56.8 288.9 58.0 290.0C59.2 291.1 60.5 293.6 62.0 295.0C63.5 296.4 65.7 298.9 67.0 298.6C68.3 298.3 68.7 294.5 70.0 293.0C71.3 291.5 73.7 289.8 75.0 289.4C76.3 289.0 77.0 290.5 78.0 290.6C79.0 290.7 79.8 288.9 81.0 290.0C82.2 291.1 83.7 295.8 85.0 297.0C86.3 298.2 87.8 296.9 89.0 297.4C90.2 297.9 91.2 298.9 92.0 300.0C92.8 301.1 92.8 303.1 94.0 304.0C95.2 304.9 97.7 304.6 99.0 305.4C100.3 306.2 100.8 307.4 102.0 309.0C103.2 310.6 104.7 312.0 106.0 315.0C107.3 318.0 108.5 323.1 110.0 327.0C111.5 330.9 113.8 336.9 115.0 338.6C116.2 340.3 116.0 338.9 117.0 337.0C118.0 335.1 119.8 329.1 121.0 327.4C122.2 325.7 122.5 327.4 124.0 326.6C125.5 325.8 128.3 323.7 130.0 322.6C131.7 321.5 132.5 321.8 134.0 320.0C135.5 318.2 137.7 314.3 139.0 312.0C140.3 309.7 140.7 307.7 142.0 306.0C143.3 304.3 145.7 303.0 147.0 302.0C148.3 301.0 149.1 300.3 150.0 300.0C150.9 299.7 151.6 299.5 152.4 300.0C153.2 300.5 153.7 301.2 155.0 303.0C156.3 304.8 158.7 309.2 160.0 311.0C161.3 312.8 162.0 313.7 163.0 314.0C164.0 314.3 165.0 311.7 166.0 313.0C167.0 314.3 167.7 319.7 169.0 322.0C170.3 324.3 172.5 326.0 174.0 327.0C175.5 328.0 177.0 327.5 178.0 328.0C179.0 328.5 179.2 328.3 180.0 330.0C180.8 331.7 182.2 336.2 183.0 338.0C183.8 339.8 184.3 340.2 185.0 340.6C185.7 341.0 186.2 341.0 187.0 340.6C187.8 340.2 189.0 339.9 190.0 338.0C191.0 336.1 192.0 330.8 193.0 329.0C194.0 327.2 195.0 327.8 196.0 327.4C197.0 327.0 197.8 327.7 199.0 326.6C200.2 325.5 201.8 322.5 203.0 321.0C204.2 319.5 204.8 318.2 206.0 317.6C207.2 317.0 208.8 318.5 210.0 317.6C211.2 316.7 211.8 314.4 213.0 312.0C214.2 309.6 215.7 306.0 217.0 303.0C218.3 300.0 219.8 296.3 221.0 294.0C222.2 291.7 223.0 290.9 224.0 289.0C225.0 287.1 226.2 283.8 227.0 282.6C227.8 281.4 228.3 281.8 229.0 282.0C229.7 282.2 230.2 282.8 231.0 284.0C231.8 285.2 233.0 286.8 234.0 289.0C235.0 291.2 236.0 294.7 237.0 297.0C238.0 299.3 238.8 301.3 240.0 303.0C241.2 304.7 243.0 305.0 244.0 307.0C245.0 309.0 245.2 312.2 246.0 315.0C246.8 317.8 248.0 321.7 249.0 324.0C250.0 326.3 250.8 327.3 252.0 329.0C253.2 330.7 254.8 333.0 256.0 334.0C257.2 335.0 258.0 335.0 259.0 335.0C260.0 335.0 261.0 333.3 262.0 334.0C263.0 334.7 264.0 336.5 265.0 339.0C266.0 341.5 267.2 346.8 268.0 349.0C268.8 351.2 269.3 351.5 270.0 352.0C270.7 352.5 271.6 351.7 272.4 352.0C273.2 352.3 274.1 353.3 275.0 354.0C275.9 354.7 277.0 355.7 278.0 356.0C279.0 356.3 280.2 357.0 281.0 356.0C281.8 355.0 282.2 352.5 283.0 350.0C283.8 347.5 285.0 343.8 286.0 341.0C287.0 338.2 288.0 335.2 289.0 333.0C290.0 330.8 290.7 329.3 292.0 328.0C293.3 326.7 295.7 325.9 297.0 325.4C298.3 324.9 299.0 325.4 300.0 325.0C301.0 324.6 302.0 324.0 303.0 323.0C304.0 322.0 305.0 320.5 306.0 319.0C307.0 317.5 308.0 315.5 309.0 314.0C310.0 312.5 310.8 311.5 312.0 310.0C313.2 308.5 314.8 306.7 316.0 305.0C317.2 303.3 317.8 300.8 319.0 300.0C320.2 299.2 321.7 300.2 323.0 300.0C324.3 299.8 325.8 298.6 327.0 298.6C328.2 298.6 328.8 299.7 330.0 300.0C331.2 300.3 332.7 299.8 334.0 300.6C335.3 301.4 336.7 303.9 338.0 305.0C339.3 306.1 340.7 306.0 342.0 307.0C343.3 308.0 344.7 310.8 346.0 311.0C347.3 311.2 348.7 309.3 350.0 308.0C351.3 306.7 352.7 304.2 354.0 303.0C355.3 301.8 356.8 301.2 358.0 300.6C359.2 300.0 360.2 298.8 361.0 299.4C361.8 300.0 362.2 301.7 363.0 304.0C363.8 306.3 364.8 310.5 366.0 313.0C367.2 315.5 368.7 318.0 370.0 319.0C371.3 320.0 372.7 319.1 374.0 319.0C375.3 318.9 376.8 318.9 378.0 318.6C379.2 318.3 380.0 317.0 381.0 317.4C382.0 317.8 382.8 319.8 384.0 321.0C385.2 322.2 386.8 323.5 388.0 324.6C389.2 325.7 390.0 325.8 391.0 327.4C392.0 329.0 392.8 331.8 394.0 334.0C395.2 336.2 396.7 338.9 398.0 340.6C399.3 342.3 400.7 343.1 402.0 344.0C403.3 344.9 404.7 345.6 406.0 346.0C407.3 346.4 408.8 346.4 410.0 346.4C411.2 346.4 412.2 346.6 413.0 346.0C413.8 345.4 414.3 343.8 415.0 343.0C415.7 342.2 416.3 342.7 417.0 341.0C417.7 339.3 418.2 336.2 419.0 333.0C419.8 329.8 421.0 325.3 422.0 322.0C423.0 318.7 424.0 315.5 425.0 313.0C426.0 310.5 427.0 308.3 428.0 307.0C429.0 305.7 430.0 305.2 431.0 305.0C432.0 304.8 433.0 306.0 434.0 306.0C435.0 306.0 436.0 305.4 437.0 305.0C438.0 304.6 439.2 303.6 440.0 303.6C440.8 303.6 441.2 304.3 442.0 305.0C442.8 305.7 444.0 308.1 445.0 308.0C446.0 307.9 447.0 305.7 448.0 304.5C449.0 303.3 450.0 302.2 451.0 301.0C452.0 299.8 453.0 298.2 454.0 297.0C455.0 295.8 455.8 294.8 457.0 294.0C458.2 293.2 459.8 292.2 461.0 292.0C462.2 291.8 462.8 293.0 464.0 293.0C465.2 293.0 466.7 292.2 468.0 292.0C469.3 291.8 470.8 291.7 472.0 291.6C473.2 291.5 474.2 291.2 475.0 291.6C475.8 292.0 476.3 292.8 477.0 294.0C477.7 295.2 478.3 297.0 479.0 299.0C479.7 301.0 480.2 304.2 481.0 306.0C481.8 307.8 483.0 308.9 484.0 310.0C485.0 311.1 486.0 312.1 487.0 312.4C488.0 312.7 489.1 312.7 490.0 312.0C490.9 311.3 491.6 308.7 492.4 308.0C493.2 307.3 494.1 307.5 495.0 308.0C495.9 308.5 497.0 309.8 498.0 311.0C499.0 312.2 500.0 314.2 501.0 315.0C502.0 315.8 503.2 315.8 504.0 315.6C504.8 315.4 505.2 315.4 506.0 314.0C506.8 312.6 508.0 308.5 509.0 307.0C510.0 305.5 511.2 305.7 512.0 305.0C512.8 304.3 513.2 304.5 514.0 303.0C514.8 301.5 516.0 297.7 517.0 296.0C518.0 294.3 519.0 294.0 520.0 293.0C521.0 292.0 522.0 290.8 523.0 290.0C524.0 289.2 525.2 288.0 526.0 288.0C526.8 288.0 527.3 289.2 528.0 290.0C528.7 290.8 529.0 292.7 530.0 293.0C531.0 293.3 532.7 292.3 534.0 292.0C535.3 291.7 536.8 290.8 538.0 291.0C539.2 291.2 540.1 292.9 541.0 293.4C541.9 293.9 542.8 295.1 543.6 294.0C544.4 292.9 545.3 288.8 546.0 287.0C546.7 285.2 547.2 284.0 548.0 283.4C548.8 282.8 550.2 283.0 551.0 283.4C551.8 283.8 552.2 285.2 553.0 286.0C553.8 286.8 555.5 287.7 556.0 288.0" fill="none" stroke="#1515a5" stroke-width="1.55" stroke-linejoin="round" stroke-linecap="round"/>
<polyline points="2.0,404.0 5.0,408.0 8.0,401.0 11.0,399.0 13.0,400.0 15.0,405.0 17.0,408.0 19.0,412.4 22.0,414.4 24.0,406.0 26.0,398.0 28.0,394.0 32.0,392.6 34.0,395.6 36.0,394.0 40.0,395.6 43.0,392.0 46.0,389.0 48.0,386.0 50.0,387.6 51.0,386.0 53.0,389.0 55.0,388.0 57.0,390.4 60.0,394.0 62.0,395.6 64.0,393.0 66.0,395.0 68.0,388.4 70.0,386.4 72.0,388.4 74.0,386.4 76.0,390.4 78.0,392.0 80.0,390.4 82.0,390.6 84.0,397.0 85.0,399.0 87.0,394.0 88.0,392.0 90.0,395.0 92.0,394.0 94.0,401.0 96.0,396.0 98.0,395.0 100.0,397.0 102.0,400.0 105.0,401.0 107.0,404.0 109.0,411.0 110.6,412.4 112.0,410.0 115.0,410.0 117.0,400.0 119.0,397.4 121.0,398.0 123.0,401.0 125.0,400.4 127.0,398.6 129.0,399.6 133.0,399.0 135.0,396.0 137.0,394.0 139.0,394.6 141.0,388.0 142.0,386.0 143.6,393.0 146.0,392.0 149.0,391.0 152.0,391.0 154.0,396.0 156.0,398.0 159.0,402.0 162.4,402.4 164.0,396.0 166.0,394.0 167.6,408.0 170.0,406.0 172.0,404.0 175.0,406.0 177.0,403.0 179.0,406.0 181.0,411.0 183.0,413.6 185.0,412.0 187.0,407.0 188.4,403.0 190.0,402.4 192.0,397.0 194.0,400.0 196.0,401.0 199.0,400.0 201.0,398.0 203.0,395.0 205.0,398.0 207.0,399.0 209.4,400.6 212.0,391.0 214.0,389.6 216.0,388.0 219.0,384.0 221.0,385.0 223.0,382.0 226.0,380.4 228.0,381.0 230.0,388.0 232.0,392.0 233.6,391.6 235.0,397.0 238.0,400.6 240.0,400.0 242.4,395.0 244.0,399.0 245.6,407.0 248.0,406.0 250.0,408.0 252.4,405.6 254.4,407.6 256.0,409.6 258.0,406.6 260.6,402.4 262.6,406.0 264.6,411.0 268.0,415.6 271.0,406.6 273.0,409.0 275.0,411.6 277.0,412.4 280.0,409.6 281.0,411.0 283.0,398.6 284.4,401.6 287.0,398.6 290.0,397.4 292.0,398.0 293.6,400.6 296.0,400.0 299.0,403.6 302.0,399.0 304.0,398.0 307.0,394.0 310.0,393.0 312.0,394.0 314.0,392.4 317.4,388.0 319.0,389.6 320.6,396.0 322.0,392.0 325.0,393.0 328.0,394.0 331.0,393.6 334.0,394.0 335.6,396.0 337.0,399.0 340.0,397.0 342.4,395.6 344.4,403.6 346.4,396.0 348.0,392.4 350.0,394.4 351.6,393.0 353.6,389.0 355.6,391.0 357.6,390.4 359.6,388.6 361.0,390.0 362.6,398.0 364.4,403.0 366.0,407.0 368.0,405.0 370.0,403.6 372.0,400.6 374.0,399.6 376.0,401.0 379.0,397.4 381.0,400.0 383.6,406.0 386.0,404.4 388.0,406.0 390.0,407.4 392.0,412.4 394.0,414.0 398.0,417.6 400.0,413.6 403.0,416.0 405.6,417.0 408.0,416.0 411.0,415.6 413.0,413.0 415.0,412.4 416.4,407.0 417.6,409.6 419.4,391.0 421.0,389.6 422.4,391.0 425.0,389.6 428.0,389.6 430.0,394.0 431.6,393.0 434.0,396.6 436.0,394.0 438.0,391.6 440.0,392.0 442.0,396.0 443.6,400.6 445.0,399.6 446.4,390.8 449.0,390.0 452.0,389.0 454.0,386.0 456.0,385.0 458.0,387.0 460.0,385.0 461.6,387.0 463.0,390.0 465.0,387.0 467.0,389.6 469.0,388.4 471.0,386.0 472.4,388.4 476.0,388.0 478.0,394.0 479.6,403.0 481.0,409.0 482.4,400.6 485.0,400.0 487.0,399.0 489.0,397.0 491.0,392.4 494.0,394.0 496.0,399.0 498.0,400.0 500.4,403.6 503.0,399.0 505.0,398.0 508.0,388.4 510.0,392.0 512.0,393.6 514.0,392.0 517.0,386.0 519.0,389.0 522.0,386.6 524.6,384.0 527.0,391.0 529.4,394.0 531.0,393.0 532.0,389.0 533.6,391.0 536.0,388.4 539.0,391.0 542.0,392.0 543.6,390.0 545.6,382.4 548.0,381.0 549.6,383.0 551.4,389.0 553.0,391.6 555.6,390.0" fill="none" stroke="#4aa5f5" stroke-width="0.95" stroke-linejoin="round"/>
<rect x="0" y="0" width="1.2" height="450" fill="#fff"/>
<g fill="none">
<line x1="1" y1="1.7" x2="566.5" y2="1.7" stroke="#8a8a8a" stroke-width="1.2"/>
<line x1="1.8" y1="1" x2="1.8" y2="434" stroke="#7d7d7d" stroke-width="1.2"/>
<line x1="565.8" y1="1" x2="565.8" y2="434.3" stroke="#7d7d7d" stroke-width="1.2"/>
<line x1="1" y1="275.7" x2="566.5" y2="275.7" stroke="#4c4c4c" stroke-width="1.3"/>
<line x1="1" y1="277.2" x2="566.5" y2="277.2" stroke="#8c8c8c" stroke-width="1.1"/>
<line x1="1" y1="361.2" x2="566.5" y2="361.2" stroke="#555" stroke-width="1.25"/>
<line x1="1" y1="362.45" x2="566.5" y2="362.45" stroke="#999" stroke-width="0.95"/>
<line x1="1" y1="433.7" x2="566.5" y2="433.7" stroke="#606060" stroke-width="1.15"/>
</g>
<g stroke="#555" stroke-width="1">
<line x1="565.8" y1="25.7" x2="568.0" y2="25.7"/>
<line x1="565.8" y1="50.5" x2="568.0" y2="50.5"/>
<line x1="565.8" y1="75.2" x2="568.0" y2="75.2"/>
<line x1="565.8" y1="100.0" x2="568.0" y2="100.0"/>
<line x1="565.8" y1="124.7" x2="568.0" y2="124.7"/>
<line x1="565.8" y1="149.5" x2="568.0" y2="149.5"/>
<line x1="565.8" y1="174.3" x2="568.0" y2="174.3"/>
<line x1="565.8" y1="199.0" x2="568.0" y2="199.0"/>
<line x1="565.8" y1="223.8" x2="568.0" y2="223.8"/>
<line x1="565.8" y1="248.5" x2="568.0" y2="248.5"/>
<line x1="565.8" y1="273.3" x2="568.0" y2="273.3"/>
<line x1="565.8" y1="316.0" x2="567.4" y2="316.0"/>
<line x1="565.8" y1="356.3" x2="567.4" y2="356.3"/>
<line x1="565.8" y1="368.3" x2="567.4" y2="368.3"/>
<line x1="565.8" y1="385.0" x2="567.4" y2="385.0"/>
<line x1="565.8" y1="412.7" x2="567.4" y2="412.7"/>
<line x1="565.8" y1="429.3" x2="567.4" y2="429.3"/>
<line x1="2.4" y1="433.7" x2="2.4" y2="437"/>
<line x1="50.4" y1="433.7" x2="50.4" y2="437"/>
<line x1="98.4" y1="433.7" x2="98.4" y2="437"/>
<line x1="146.4" y1="433.7" x2="146.4" y2="437"/>
<line x1="194.4" y1="433.7" x2="194.4" y2="437"/>
<line x1="242.4" y1="433.7" x2="242.4" y2="437"/>
<line x1="290.4" y1="433.7" x2="290.4" y2="437"/>
<line x1="338.4" y1="433.7" x2="338.4" y2="437"/>
<line x1="386.4" y1="433.7" x2="386.4" y2="437"/>
<line x1="434.4" y1="433.7" x2="434.4" y2="437"/>
<line x1="482.4" y1="433.7" x2="482.4" y2="437"/>
<line x1="530.4" y1="433.7" x2="530.4" y2="437"/>
</g>
<text x="570.1" y="28.5" textLength="24.3" lengthAdjust="spacingAndGlyphs">0.67040</text>
<text x="570.1" y="53.3" textLength="24.3" lengthAdjust="spacingAndGlyphs">0.66640</text>
<text x="570.1" y="78.0" textLength="24.3" lengthAdjust="spacingAndGlyphs">0.66250</text>
<text x="570.1" y="102.8" textLength="24.3" lengthAdjust="spacingAndGlyphs">0.65850</text>
<text x="570.1" y="127.5" textLength="24.3" lengthAdjust="spacingAndGlyphs">0.65460</text>
<text x="570.1" y="152.3" textLength="24.3" lengthAdjust="spacingAndGlyphs">0.65070</text>
<text x="570.1" y="177.1" textLength="24.3" lengthAdjust="spacingAndGlyphs">0.64670</text>
<text x="570.1" y="201.8" textLength="24.3" lengthAdjust="spacingAndGlyphs">0.64280</text>
<text x="570.1" y="226.6" textLength="24.3" lengthAdjust="spacingAndGlyphs">0.63890</text>
<text x="570.1" y="251.3" textLength="24.3" lengthAdjust="spacingAndGlyphs">0.63490</text>
<text x="570.1" y="276.1" textLength="24.3" lengthAdjust="spacingAndGlyphs">0.63100</text>
<rect x="567" y="57.2" width="30.8" height="7.6" fill="#000"/>
<text x="570.6" y="63.8" textLength="24.2" lengthAdjust="spacingAndGlyphs" style="fill:#eee;stroke:#eee">0.66470</text>
<rect x="567" y="93.2" width="30.8" height="7.6" fill="#2f4f4f"/>
<text x="570.6" y="99.8" textLength="24.2" lengthAdjust="spacingAndGlyphs" style="fill:#e6eaea;stroke:#e6eaea">0.65890</text>
<text x="551.2" y="17.9" textLength="13.2" lengthAdjust="spacingAndGlyphs" style="fill:#648698;stroke:#648698">38.2</text>
<text x="568.4" y="285.1" textLength="28.6" lengthAdjust="spacingAndGlyphs">0.002702</text>
<text x="568.4" y="318.8" textLength="13.6" lengthAdjust="spacingAndGlyphs">0.00</text>
<text x="568.7" y="318.8" textLength="3.7" lengthAdjust="spacingAndGlyphs" style="fill:#1f3f4f;stroke:#1f3f4f">0</text>
<text x="568.8" y="359.1" textLength="29.3" lengthAdjust="spacingAndGlyphs">-0.003241</text>
<text x="568.6" y="371.1" textLength="11.4" lengthAdjust="spacingAndGlyphs">100</text>
<text x="568.4" y="387.8" textLength="7.4" lengthAdjust="spacingAndGlyphs">70</text>
<text x="568.4" y="415.5" textLength="7.4" lengthAdjust="spacingAndGlyphs">30</text>
<text x="569" y="432.1" textLength="3.6" lengthAdjust="spacingAndGlyphs">0</text>
<path d="M4.4 6.6 L10 6.6 L7.2 9.4 Z" fill="#000"/>
<text x="14.2" y="10.8" class="hd" textLength="41.2" lengthAdjust="spacingAndGlyphs">AUDUSD,H4</text>
<text x="60.6" y="10.8" class="hd" textLength="24.3" lengthAdjust="spacingAndGlyphs">0.66420</text>
<text x="87.5" y="10.8" class="hd" textLength="24.3" lengthAdjust="spacingAndGlyphs">0.66525</text>
<text x="114.3" y="10.8" class="hd" textLength="24.3" lengthAdjust="spacingAndGlyphs">0.66418</text>
<text x="141.2" y="10.8" class="hd" textLength="24.3" lengthAdjust="spacingAndGlyphs">0.66470</text>
<text x="5.5" y="286.3" textLength="48.6" lengthAdjust="spacingAndGlyphs">MACD(12,26,9)</text>
<text x="57.4" y="286.3" textLength="28.6" lengthAdjust="spacingAndGlyphs">0.001979</text>
<text x="87.8" y="286.3" textLength="28.6" lengthAdjust="spacingAndGlyphs">0.002081</text>
<text x="5.6" y="371.8" textLength="50.8" lengthAdjust="spacingAndGlyphs">RSI(14) 62.9306</text>
<text x="1.8" y="444.0" textLength="37.0" lengthAdjust="spacingAndGlyphs">19 Jun 2025</text>
<text x="49.8" y="444.0" textLength="39.2" lengthAdjust="spacingAndGlyphs">26 Jun 16:00</text>
<text x="97.8" y="444.0" textLength="33.8" lengthAdjust="spacingAndGlyphs">4 Jul 00:00</text>
<text x="145.8" y="444.0" textLength="36.8" lengthAdjust="spacingAndGlyphs">11 Jul 08:00</text>
<text x="193.8" y="444.0" textLength="36.8" lengthAdjust="spacingAndGlyphs">18 Jul 16:00</text>
<text x="241.8" y="444.0" textLength="37.2" lengthAdjust="spacingAndGlyphs">28 Jul 00:00</text>
<text x="289.8" y="444.0" textLength="38.5" lengthAdjust="spacingAndGlyphs">4 Aug 08:00</text>
<text x="337.8" y="444.0" textLength="41.5" lengthAdjust="spacingAndGlyphs">11 Aug 16:00</text>
<text x="385.8" y="444.0" textLength="41.0" lengthAdjust="spacingAndGlyphs">19 Aug 00:00</text>
<text x="433.8" y="444.0" textLength="41.2" lengthAdjust="spacingAndGlyphs">26 Aug 08:00</text>
<text x="481.8" y="444.0" textLength="36.8" lengthAdjust="spacingAndGlyphs">2 Sep 16:00</text>
<text x="529.8" y="444.0" textLength="41.0" lengthAdjust="spacingAndGlyphs">10 Sep 00:00</text>
</svg>
</body></html>
